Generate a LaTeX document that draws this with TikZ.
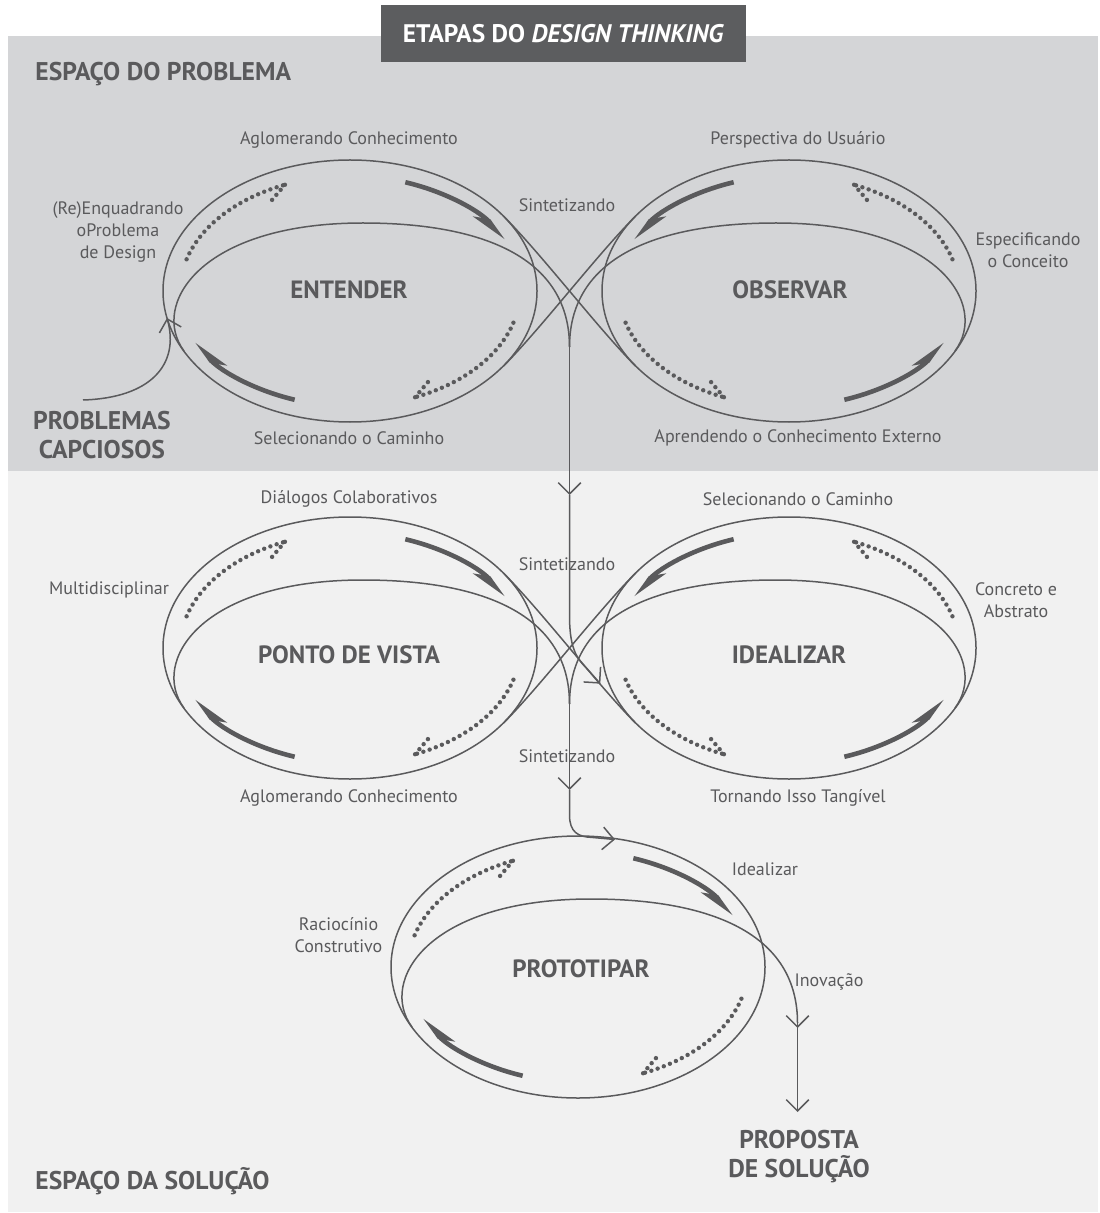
\documentclass[tikz,border=0pt]{standalone}
\usepackage{fontspec}
\setmainfont{PT Sans}
\usetikzlibrary{arrows.meta,positioning}
\definecolor{ink}{HTML}{5A5A5C}
\definecolor{probgray}{HTML}{D4D5D7}
\definecolor{solgray}{HTML}{F1F1F1}
\definecolor{titlegray}{HTML}{5C5D5F}
\tikzset{
  thinline/.style={draw=ink, line width=0.75pt},
  bigarr/.style={draw=ink, line width=2.3pt, -{Stealth[harpoon,swap,length=15pt,width=10pt,inset=5pt]}},
  bigarrm/.style={draw=ink, line width=2.3pt, -{Stealth[harpoon,length=15pt,width=10pt,inset=5pt]}},
  harp/.style={bigarr},
  dots/.style={draw=ink, line width=2.2pt, line cap=round, dash pattern=on 0pt off 3.3pt},
  oarr/.style={thinline, -{Straight Barb[angle=90:8pt]}},
  cross/.style={},
  lab/.style={font=\fontsize{9}{11}\selectfont, text=ink, align=center},
  stage/.style={font=\fontsize{12.5}{14}\selectfont\bfseries, text=ink},
  zone/.style={font=\fontsize{12.8}{14}\selectfont\bfseries, text=ink, anchor=west, inner sep=0pt},
  bigzone/.style={font=\fontsize{12.8}{14.5}\selectfont\bfseries, text=ink, align=center},
  titlebox/.style={fill=titlegray, text=white, minimum width=182.5pt, minimum height=28.5pt,
                   font=\fontsize{12.7}{14}\selectfont\bfseries},
  loop/.pic={
    \coordinate (-cusp) at (219.5,56);
    \draw[thinline] (0,0) ellipse [x radius=187, y radius=131];
    \draw[thinline] (-166,60) .. controls (-200,14) and (-150,-68) .. (13,-68)
      .. controls (120,-68) and (219.5,-40) .. (219.5,56);
    \draw[thinline, cross] (153.2,-75.2) .. controls (193,-35) and (246,35) .. (285.6,75.2);
    \draw[harp] (289:170 and 115) arc[start angle=289, end angle=334, x radius=170, y radius=115];
    \draw[harp] (109:170 and 115) arc[start angle=109, end angle=154, x radius=170, y radius=115];
    \draw[dots] (196:170 and 115) arc[start angle=196, end angle=247.5, x radius=170, y radius=115];
    \draw[dots] (-65.1,-106.2) -- (-78,-91);
    \draw[dots] (16:170 and 115) arc[start angle=16, end angle=67.5, x radius=170, y radius=115];
    \draw[dots] (65.1,106.2) -- (78,91);
  },
}
\begin{document}
\begin{tikzpicture}[x=0.5pt, y=-0.5pt]
  \useasboundingbox (0,0) rectangle (1099,1213);
  \fill[white] (0,0) rectangle (1099,1213);
  \fill[probgray] (8,36) rectangle (1098,471);
  \fill[solgray] (8,471) rectangle (1098,1212);
  \node[titlebox] (title) at (563.5,33.5) {ETAPAS DO \textit{DESIGN THINKING}};

  \pic (ent) at (350,291) {loop};
  \pic[xscale=-1, harp/.style=bigarrm] (obs) at (789,291) {loop};
  \pic (pdv) at (350,648) {loop};
  \pic[xscale=-1, harp/.style=bigarrm] (ide) at (789,648) {loop};
  \pic[cross/.style={draw=none}] (pro) at (578,967) {loop};

  \coordinate (entry) at (83,400);
  \coordinate (entjoin) at (167,318);
  \coordinate (down1) at (569.5,495);
  \coordinate (join1) at (600.3,683.7);
  \coordinate (down2) at (569.5,790);
  \coordinate (join2) at (615,839.5);
  \coordinate (exit) at (797.5,1112);
  \draw[oarr] (entry) .. controls (150,398) and (180,365) .. (entjoin);
  \draw[oarr] (ent-cusp) -- (down1);
  \draw[oarr] (down1) -- (569.5,615) .. controls (569.5,645) and (575,657) .. (586.1,667.7) -- (join1);
  \draw[oarr] (pdv-cusp) -- (down2);
  \draw[oarr] (down2) -- (569.5,815) .. controls (569.5,832) and (578,837) .. (592,837.4) -- (join2);
  \draw[oarr] (pro-cusp) -- ++(0,5);
  \draw[oarr] (pro-cusp) -- (exit);

  \node[zone] (probzone) at (35,74) {ESPAÇO DO PROBLEMA};
  \node[zone] (solzone) at (35,1181) {ESPAÇO DA SOLUÇÃO};
  \node[bigzone] (wicked) at (102,435) {PROBLEMAS\\CAPCIOSOS};
  \node[bigzone] (proposal) at (799,1157) {PROPOSTA\\DE SOLUÇÃO};

  \node[stage] (entender) at (349,290) {ENTENDER};
  \node[stage] (observar) at (790,290) {OBSERVAR};
  \node[stage] (pontovista) at (349,655) {PONTO DE VISTA};
  \node[stage] (idealizar) at (789,655) {IDEALIZAR};
  \node[stage] (prototipar) at (581,969) {PROTOTIPAR};

  \node[lab] (aglo1) at (349,140) {Aglomerando Conhecimento};
  \node[lab] (sint1) at (567,205) {Sintetizando};
  \node[lab] (persp) at (798,140) {Perspectiva do Usuário};
  \node[lab] (reenq) at (118,232) {(Re)Enquadrando\\oProblema\\de Design};
  \node[lab] (espec) at (1028,250) {Especificando\\o Conceito};
  \node[lab] (selec1) at (349,438) {Selecionando o Caminho};
  \node[lab] (aprend) at (798,438) {Aprendendo o Conhecimento Externo};
  \node[lab] (dialog) at (349,499) {Diálogos Colaborativos};
  \node[lab] (sint2) at (567,564) {Sintetizando};
  \node[lab] (selec2) at (798,499) {Selecionando o Caminho};
  \node[lab] (multi) at (109,590) {Multidisciplinar};
  \node[lab] (concr) at (1016,600) {Concreto e\\Abstrato};
  \node[lab] (aglo2) at (349,798) {Aglomerando Conhecimento};
  \node[lab] (sint3) at (567,756) {Sintetizando};
  \node[lab] (torn) at (798,798) {Tornando Isso Tangível};
  \node[lab] (ideal) at (765,869) {Idealizar};
  \node[lab] (racio) at (338.5,935) {Raciocínio\\Construtivo};
  \node[lab] (inov) at (829,982) {Inovação};
\end{tikzpicture}
\end{document}
